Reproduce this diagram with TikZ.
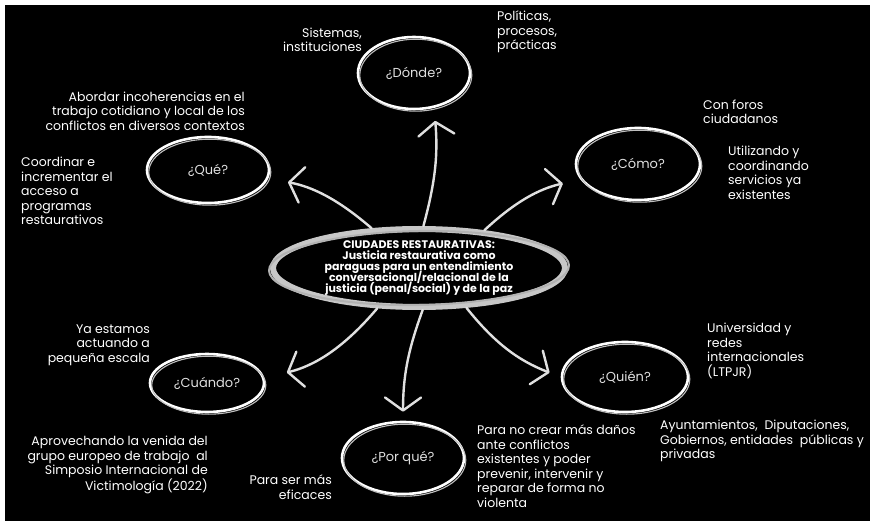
\documentclass[tikz,border=0pt]{standalone}
\usepackage{fontspec}
\setmainfont{Poppins}
\usetikzlibrary{shapes.geometric,arrows.meta}
\newcommand{\juntas}{\setlength{\lineskiplimit}{-10pt}}

\begin{document}
\begin{tikzpicture}[x=1pt, y=-1pt,
    pregunta/.style={ellipse, draw=white, line width=2.6pt, text=white!88!black,
      inner sep=0pt, font=\fontsize{13}{15}\selectfont,
      postaction={draw=white!75!black, line width=1.1pt, transform canvas={shift={(1.8pt,-2.2pt)}}}},
    nota/.style={text=white, inner sep=0pt, font=\fontsize{12.5}{14.5}\selectfont},
    flecha/.style={draw=white!88!black, line width=2.4pt, line cap=round,
      -{Straight Barb[length=13pt, width=36pt, round]}}]

  \fill[white] (0,0) rectangle (870,521);
  \fill[black] (5,5) rectangle (870,521);
  \useasboundingbox (0,0) rectangle (870,521);

  % idea central
  \node[ellipse, draw=white!78!black, line width=6pt, minimum width=292pt, minimum height=78pt,
    inner sep=0pt, text=white, align=center,
    font={\bfseries\fontsize{11}{11}\selectfont\juntas}]
    (centro) at (419,268) {CIUDADES RESTAURATIVAS:\\Justicia restaurativa como\\paraguas para un entendimiento\\conversacional/relacional de la\\justicia (penal/social) y de la paz};
  \draw[white!70!black, line width=2pt] (centro.center) ellipse [x radius=150, y radius=37, rotate=1];

  % preguntas
  \node[pregunta, minimum width=112pt, minimum height=72pt] (donde) at (414,73) {¿Dónde?};
  \node[pregunta, minimum width=122pt, minimum height=66pt] (que) at (208,170) {¿Qué?};
  \node[pregunta, minimum width=124pt, minimum height=72pt] (como) at (638,164) {¿Cómo?};
  \node[pregunta, minimum width=114pt, minimum height=58pt] (cuando) at (207,383) {¿Cuándo?};
  \node[pregunta, minimum width=126pt, minimum height=70pt] (quien) at (625,377) {¿Quién?};
  \node[pregunta, minimum width=122pt, minimum height=72pt] (porque) at (403,458) {¿Por qué?};

  % flechas
  \draw[flecha, shorten >=13pt] (centro.84) to[bend right=10] (donde.-60);
  \draw[flecha, shorten >=20pt] (centro.140) to[bend right=15] (que.-8);
  \draw[flecha, shorten >=18pt] (centro.30) to[bend left=15] (como.195);
  \draw[flecha, shorten >=23pt] (centro.224) to[bend left=18] (cuando.5);
  \draw[flecha, shorten >=9pt] (centro.-85) to[bend right=10] (porque.north);
  \draw[flecha, shorten >=12pt] (centro.-40) to[bend right=15] (quien.180);

  % respuestas
  \node[nota, anchor=east, align=right] (sistemas) at (362,40) {Sistemas,\\instituciones};
  \node[nota, anchor=west, align=left] (politicas) at (497,32) {Políticas,\\procesos,\\prácticas};
  \node[nota, anchor=east, align=right] (abordar) at (245,111) {Abordar incoherencias en el\\trabajo cotidiano y local de los\\conflictos en diversos contextos};
  \node[nota, anchor=west, align=left] (coordinar) at (21,191) {Coordinar e\\incrementar el\\acceso a\\programas\\restaurativos};
  \node[nota, anchor=west, align=left] (foros) at (703,112) {Con foros\\ciudadanos};
  \node[nota, anchor=west, align=left] (servicios) at (728,173) {Utilizando y\\coordinando\\servicios ya\\existentes};
  \node[nota, anchor=east, align=right] (escala) at (150,345) {Ya estamos\\actuando a\\pequeña escala};
  \node[nota, anchor=east, align=right] (simposio) at (208,465) {Aprovechando la venida del\\grupo europeo de trabajo\ \ al\\Simposio Internacional de\\Victimología (2022)};
  \node[nota, anchor=east, align=right] (eficaces) at (332,487) {Para ser más\\eficaces};
  \node[nota, anchor=west, align=left] (danos) at (477,466) {Para no crear más daños\\ante conflictos\\existentes y poder\\prevenir, intervenir y\\reparar de forma no\\violenta};
  \node[nota, anchor=west, align=left] (universidad) at (707,351) {Universidad y\\redes\\internacionales\\(LTPJR)};
  \node[nota, anchor=west, align=left] (ayuntamientos) at (660,441) {Ayuntamientos,\ \ Diputaciones,\\Gobiernos, entidades\ \ públicas y\\privadas};
\end{tikzpicture}
\end{document}
